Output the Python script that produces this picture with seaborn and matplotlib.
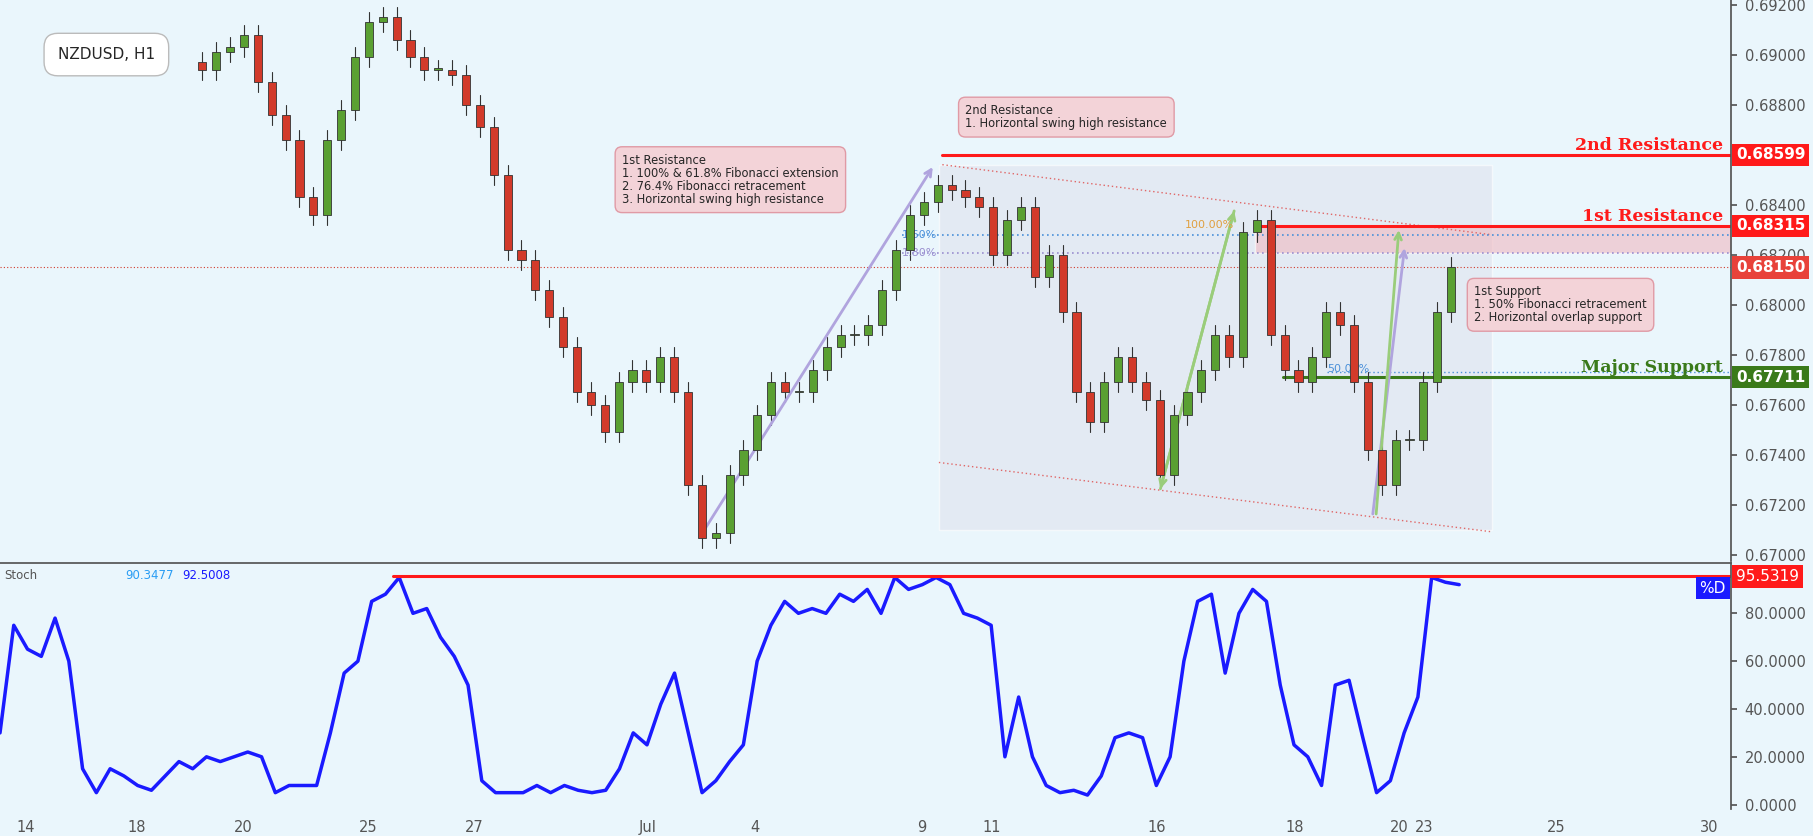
import numpy as np
import pandas as pd
import seaborn as sns
import matplotlib.pyplot as plt
from matplotlib.patches import Rectangle

closes = [
    .6894, .6901, .6903, .6908, .6889, .6876, .6866, .6843, .6836, .6866,
    .6878, .6899, .6913, .6915, .6906, .6899, .6894, .6894, .6892, .6880,
    .6871, .6852, .6822, .6818, .6806, .6795, .6783, .6765, .6760, .6749,
    .6769, .6774, .6769, .6779, .6765, .6728, .6707, .6709, .6732, .6742,
    .6756, .6769, .6765, .6765, .6774, .6783, .6788, .6788, .6792, .6806,
    .6822, .6836, .6841, .6848, .6846, .6843, .6839, .6820, .6834, .6839,
    .6811, .6820, .6797, .6765, .6753, .6769, .6779, .6769, .6762, .6732,
    .6756, .6765, .6774, .6788, .6779, .6829, .6834, .6788, .6774, .6769,
    .6779, .6797, .6792, .6769, .6742, .6728, .6746, .6746, .6769, .6797,
    .6815,
]
stoch_d = [
    30, 75, 65, 62, 78, 60, 15, 5, 15, 12, 8, 6, 12, 18, 15, 20, 18, 20, 22, 20,
    5, 8, 8, 8, 30, 55, 60, 85, 88, 95, 80, 82, 70, 62, 50, 10, 5, 5, 5, 8,
    5, 8, 6, 5, 6, 15, 30, 25, 42, 55, 30, 5, 10, 18, 25, 60, 75, 85, 80, 82,
    80, 88, 85, 90, 80, 95, 90, 92, 95, 92, 80, 78, 75, 20, 45, 20, 8, 5, 6, 4,
    12, 28, 30, 28, 8, 20, 60, 85, 88, 55, 80, 90, 85, 50, 25, 20, 8, 50, 52, 28,
    5, 10, 30, 45, 95, 93, 92,
]
date_labels = ["14", "18", "20", "25", "27", "Jul", "4", "9", "11", "16", "18", "20", "23", "25", "30"]
date_pos = [22, 118, 210, 318, 410, 560, 653, 797, 858, 1000, 1120, 1210, 1232, 1346, 1478]
price_ticks = [0.670, 0.672, 0.674, 0.676, 0.678, 0.680, 0.682, 0.684, 0.688, 0.690, 0.692]
stoch_ticks = [0, 20, 40, 60, 80]
res2, res1, cur, sup = 0.68599, 0.68315, 0.68150, 0.67711
stoch_last = 95.5319

BG = "#eaf6fc"
sns.set_theme(style="white")
plt.rcParams['font.family'] = ['DejaVu Sans']

fig = plt.figure(figsize=(18.13, 8.36), dpi=100, facecolor=BG)
W = 1568.0
ax = fig.add_axes([0, 1 - 485 / 723, 1497 / W, 485 / 723], facecolor=BG)
ax2 = fig.add_axes([0, 1 - 700 / 723, 1497 / W, 213 / 723], facecolor=BG)

# candles
cx = 175 + 12 * np.arange(len(closes))
opens = [closes[0] + 0.0003] + closes[:-1]
df = pd.DataFrame({"x": cx, "o": opens, "c": closes})
for _, r in df.iterrows():
    up = r.c >= r.o
    col = "#5aa032" if up else "#d23a2a"
    hi, lo = max(r.o, r.c) + 0.0004, min(r.o, r.c) - 0.0004
    ax.plot([r.x, r.x], [lo, hi], color="#333333", lw=0.8, zorder=3)
    h = max(abs(r.c - r.o), 0.00005)
    ax.add_patch(Rectangle((r.x - 3.5, min(r.o, r.c)), 7, h, facecolor=col,
                           edgecolor="#333333", lw=0.6, zorder=4))

ax.set_xlim(0, 1497)
ax.set_ylim(0.66977, 0.69218)

# zones and channel
ax.add_patch(Rectangle((812, 0.6710), 478, 0.0146, facecolor="#dfe3ee", alpha=0.6, zorder=1))
ax.add_patch(Rectangle((1085, 0.68206), 412, res1 - 0.68206, facecolor="#f0b8c0", alpha=0.6, zorder=1))
ax.plot([815, 1290], [0.6856, 0.6828], ls=(0, (1, 2)), color="#e06666", lw=1)
ax.plot([812, 1290], [0.6737, 0.67093], ls=(0, (1, 2)), color="#e06666", lw=1)
ax.axhline(cur, color="#d23a2a", lw=0.8, ls=(0, (1, 2)))
ax.plot([780, 1497], [0.6828, 0.6828], ls=(0, (1, 2)), color="#4a90d9", lw=1.2)
ax.plot([780, 1497], [0.68206, 0.68206], ls=(0, (1, 2)), color="#9a8fd0", lw=1.2)
ax.plot([1148, 1497], [0.6773, 0.6773], ls=(0, (1, 2)), color="#4a90d9", lw=1)
ax.plot([815, 1497], [res2, res2], color="#ff1a1a", lw=2.2)
ax.plot([1085, 1497], [res1, res1], color="#ff1a1a", lw=2.2)
ax.plot([1110, 1497], [sup, sup], color="#3a7a1a", lw=2.2)

# arrows
for (x0, y0, x1, y1, c) in [(605, 0.6707, 808, 0.6856, "#b0a4de"),
                            (1187, 0.67153, 1215, 0.68238, "#b0a4de"),
                            (1003, 0.67254, 1068, 0.68386, "#9acd7a"),
                            (1068, 0.68386, 1003, 0.67254, "#9acd7a"),
                            (1190, 0.67153, 1210, 0.6831, "#9acd7a")]:
    ax.annotate("", xy=(x1, y1), xytext=(x0, y0),
                arrowprops=dict(arrowstyle="->", color=c, lw=2))

ax.text(1025, 0.6832, "100.00%", color="#e0a040", fontsize=8, va="center")
ax.text(780, 0.6828, "1.60%", color="#4a90d9", fontsize=8, va="center")
ax.text(780, 0.68206, "1.80%", color="#9a8fd0", fontsize=8, va="center")
ax.text(1148, 0.67742, "50.00%", color="#4a90d9", fontsize=8, va="center")

lab = dict(family="DejaVu Serif", fontweight="bold", fontsize=12.5, ha="right", va="bottom")
ax.text(1490, res2 + 0.00003, "2nd Resistance", color="#ff1a1a", **lab)
ax.text(1490, res1 + 0.00003, "1st Resistance", color="#ff1a1a", **lab)
ax.text(1490, sup + 0.00003, "Major Support", color="#3a7a1a", **lab)

box = dict(boxstyle="round,pad=0.6", facecolor="#f3d3d8", edgecolor="#e09aa5", lw=1)
ax.text(538, 0.6850, "1st Resistance\n1. 100% & 61.8% Fibonacci extension\n2. 76.4% Fibonacci retracement\n"
        "3. Horizontal swing high resistance", fontsize=8.3, va="center", linespacing=1.0, bbox=box)
ax.text(835, 0.6875, "2nd Resistance\n1. Horizontal swing high resistance", fontsize=8.3,
        va="center", linespacing=1.0, bbox=box)
ax.text(1275, 0.6800, "1st Support\n1. 50% Fibonacci retracement\n2. Horizontal overlap support",
        fontsize=8.3, va="center", linespacing=1.0, bbox=box)
ax.text(50, 0.6900, "NZDUSD, H1", fontsize=11, va="center",
        bbox=dict(boxstyle="round,pad=0.9", facecolor="white", edgecolor="#bbbbbb"))

# price axis
ax.yaxis.tick_right()
ax.set_yticks(price_ticks)
ax.set_yticklabels([f"{t:.5f}" for t in price_ticks], color="#555555", fontsize=10.5)
ax.tick_params(axis="y", length=4, color="#555555", pad=6)
for val, col in [(res2, "#ff1a1a"), (res1, "#ff1a1a"), (cur, "#e8423a"), (sup, "#3a7a1a")]:
    ax.text(1.003, val, f"{val:.5f}", transform=ax.get_yaxis_transform(), color="white",
            fontsize=11, va="center", fontweight="bold", zorder=10,
            bbox=dict(boxstyle="square,pad=0.25", facecolor=col, edgecolor="none"))
ax.set_xticks([])
for s in ["top", "left", "bottom"]:
    ax.spines[s].set_visible(False)
ax.spines["right"].set_color("#555555")

# stochastic
sx = np.linspace(0, 1262, len(stoch_d))
sns.lineplot(x=sx, y=stoch_d, ax=ax2, color="#1a1aff", lw=2.5)
ax2.plot([340, 1497], [stoch_last, stoch_last], color="#ff1a1a", lw=2.2)
ax2.set_xlim(0, 1497)
ax2.set_ylim(-2, 101)
ax2.yaxis.tick_right()
ax2.set_yticks(stoch_ticks)
ax2.set_yticklabels([f"{t:.4f}" for t in stoch_ticks], color="#555555", fontsize=10.5)
ax2.tick_params(axis="y", length=4, color="#555555", pad=6)
ax2.text(1.003, stoch_last, f"{stoch_last:.4f}", transform=ax2.get_yaxis_transform(), color="white",
         fontsize=11, va="center", bbox=dict(boxstyle="square,pad=0.25", facecolor="#ff1a1a", edgecolor="none"))
ax2.text(0.997, stoch_last - 5, "%D", transform=ax2.get_yaxis_transform(), color="white", ha="right",
         fontsize=11, va="center", bbox=dict(boxstyle="square,pad=0.25", facecolor="#1a1aff", edgecolor="none"))
ax2.text(4, 96, "Stoch", fontsize=8.5, color="#555555", va="center")
ax2.text(108, 96, "90.3477", fontsize=8.5, color="#2a9df4", va="center")
ax2.text(158, 96, "92.5008", fontsize=8.5, color="#1a1aff", va="center")
ax2.set_xticks(date_pos)
ax2.set_xticklabels(date_labels, color="#555555", fontsize=10.5)
ax2.tick_params(axis="x", length=4, color="#555555")
for s in ["left", "bottom"]:
    ax2.spines[s].set_visible(False)
ax2.spines["top"].set_color("#555555")
ax2.spines["right"].set_color("#555555")

fig.savefig("out.png", dpi=100, facecolor=BG)
